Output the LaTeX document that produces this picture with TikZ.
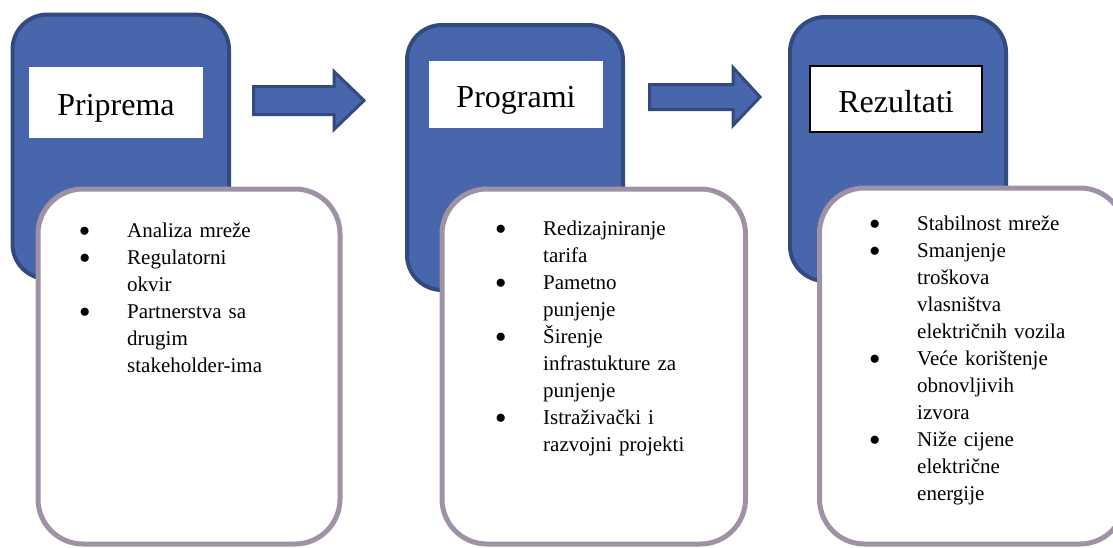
\documentclass[tikz,border=0pt]{standalone}
\usepackage{fontspec}
\setmainfont{Liberation Serif}
\definecolor{blfill}{RGB}{72,102,172}
\definecolor{bldraw}{RGB}{50,74,126}
\definecolor{wdraw}{RGB}{160,146,166}
\newcommand\bulletmark{\raisebox{-4.5pt}[0pt][0pt]{\fontsize{34}{27}\selectfont\textbullet}}
\newcommand\bitem[1]{\par\noindent\hangindent=46pt\hangafter=1\makebox[46pt][l]{\hspace{3.5pt}\makebox[0pt][c]{\bulletmark}}\strut#1\par}
\tikzset{
  bluebox/.style={draw=bldraw, fill=blfill, line width=4pt, rounded corners=35pt, inner sep=0pt},
  labelbox/.style={fill=white, inner sep=0pt, font=\fontsize{32}{38}\selectfont, text height=26pt, text depth=0pt, align=center},
  whitebox/.style={draw=wdraw, fill=white, line width=5pt, rounded corners=45pt, inner sep=0pt},
  listtext/.style={anchor=north west, inner sep=0pt, text width=240pt, font=\fontsize{21}{27}\selectfont},
  blockarrow/.style={draw=bldraw, fill=blfill, line width=3pt, line join=miter}
}
\begin{document}
\begin{tikzpicture}[x=1pt,y=-1pt]
\useasboundingbox (0,0) rectangle (1113,547);
\clip (0,0) rectangle (1113,547);
% blue boxes
\node[bluebox, minimum width=216.5pt, minimum height=264.5pt] (b1) at (120.75,146.75) {};
\node[bluebox, minimum width=216pt, minimum height=265pt] (b2) at (515,157.5) {};
\node[bluebox, minimum width=216pt, minimum height=264pt] (b3) at (898,149) {};
% labels
\node[labelbox, minimum width=174pt, minimum height=71pt] (l1) at (116,102.5) {Priprema};
\node[labelbox, minimum width=174pt, minimum height=67pt] (l2) at (516,94.5) {Programi};
\node[labelbox, draw=black, line width=2pt, minimum width=172pt, minimum height=66pt] (l3) at (896,99) {Rezultati};
% white boxes
\node[whitebox, minimum width=302pt, minimum height=355pt] (w1) at (189,366.5) {};
\node[whitebox, minimum width=303.5pt, minimum height=355pt] (w2) at (593.75,366.5) {};
\node[whitebox, minimum width=305.5pt, minimum height=356pt] (w3) at (972.25,366) {};
% lists
\node[listtext] (t1) at (81,210.6) {%
\bitem{Analiza mreže}%
\bitem{Regulatorni\newline okvir}%
\bitem{Partnerstva sa\newline drugim\newline stakeholder-ima}};
\node[listtext] (t2) at (497,208.6) {%
\bitem{Redizajniranje\newline tarifa}%
\bitem{Pametno\newline punjenje}%
\bitem{Širenje\newline infrastukture za\newline punjenje}%
\bitem{Istraživački i\newline razvojni projekti}};
\node[listtext] (t3) at (871,203.6) {%
\bitem{Stabilnost mreže}%
\bitem{Smanjenje\newline troškova\newline vlasništva\newline električnih vozila}%
\bitem{Veće korištenje\newline obnovljivih\newline izvora}%
\bitem{Niže cijene\newline električne\newline energije}};
% block arrows
\draw[blockarrow] (253.5,86.5) -- (334,86.5) -- (334,71.5) -- (364,100.5) -- (334,129.5) -- (334,114.5) -- (253.5,114.5) -- cycle;
\draw[blockarrow] (649.5,84.5) -- (733,84.5) -- (733,67.5) -- (760,97) -- (733,125.5) -- (733,109.5) -- (649.5,109.5) -- cycle;
\end{tikzpicture}
\end{document}
